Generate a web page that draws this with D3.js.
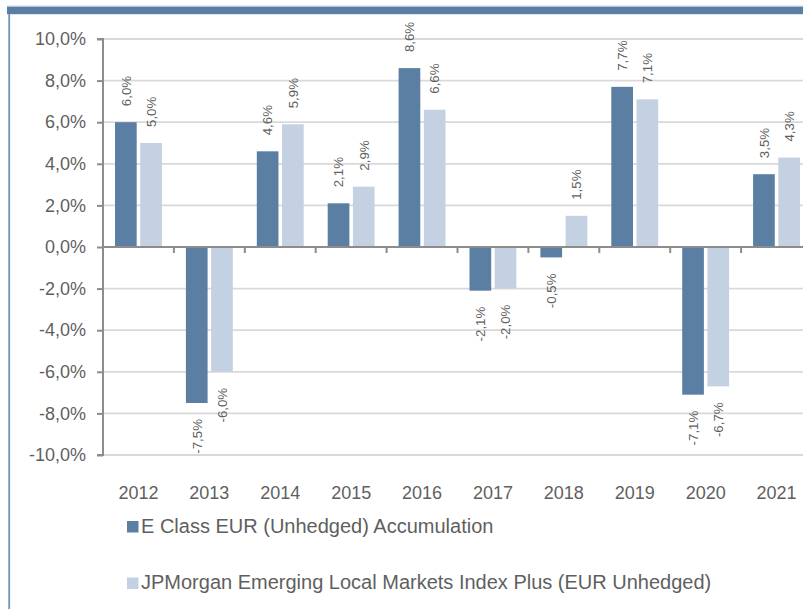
<!DOCTYPE html>
<html><head><meta charset="utf-8">
<script src="https://cdn.jsdelivr.net/npm/d3@7"></script>
<style>
html,body{margin:0;padding:0;background:#fff;}
svg{display:block;font-family:"Liberation Sans",Arial,sans-serif;}
</style></head>
<body>
<svg id="chart" width="803" height="609"></svg>
<script>
const years = ["2012","2013","2014","2015","2016","2017","2018","2019","2020","2021"];
const fundValues = [6.0,-7.5,4.6,2.1,8.6,-2.1,-0.5,7.7,-7.1,3.5];
const indexValues = [5.0,-6.0,5.9,2.9,6.6,-2.0,1.5,7.1,-6.7,4.3];
const seriesNames = ["E Class EUR (Unhedged) Accumulation","JPMorgan Emerging Local Markets Index Plus (EUR Unhedged)"];
const yTicks = [10,8,6,4,2,0,-2,-4,-6,-8,-10];

const colors = ["#5b7fa3","#c4d1e3"];
const textColor = "#5f5f5f";
const svg = d3.select("#chart");
const W = 803, H = 609;

// frame
svg.append("rect").attr("x",7).attr("y",5.5).attr("width",W-7).attr("height",1.2).attr("fill","#c9d5e4");
svg.append("rect").attr("x",7).attr("y",6.7).attr("width",W-7).attr("height",7.5).attr("fill","#5b7fa3");
svg.append("rect").attr("x",8.3).attr("y",14).attr("width",1.8).attr("height",H-14).attr("fill","#7393b5");

const y = d3.scaleLinear().domain([-10,10]).range([455,39]);
const x0 = d3.scaleBand().domain(years).range([103,103+10*70.9]).paddingInner(0).paddingOuter(0);
const groupPad = 12;
const x1 = d3.scaleBand().domain([0,1]).range([0,x0.bandwidth()-2*groupPad]).paddingInner(0.14).paddingOuter(0);

// gridlines
svg.append("g").selectAll("line").data(yTicks.filter(d=>d!==0)).join("line")
  .attr("x1",103).attr("x2",W).attr("y1",d=>y(d)).attr("y2",d=>y(d))
  .attr("stroke","#d9d9d9").attr("stroke-width",1.8);

// bars
const data = years.map((yr,i)=>({yr, vals:[fundValues[i],indexValues[i]]}));
const groups = svg.append("g").selectAll("g").data(data).join("g")
  .attr("transform",d=>`translate(${x0(d.yr)+groupPad},0)`);
groups.selectAll("rect").data(d=>d.vals.map((v,k)=>({v,k}))).join("rect")
  .attr("x",d=>x1(d.k)).attr("width",x1.bandwidth())
  .attr("y",d=>y(Math.max(0,d.v))).attr("height",d=>Math.abs(y(d.v)-y(0)))
  .attr("fill",d=>colors[d.k]);

// value labels
const fmt = v => d3.format(".1f")(v).replace(".",",").replace("−","-") + "%";
groups.selectAll("text").data(d=>d.vals.map((v,k)=>({v,k}))).join("text")
  .attr("transform",d=>{
    const cx = x1(d.k)+x1.bandwidth()/2;
    const yy = d.v>=0 ? y(d.v)-16 : y(d.v)+16;
    return `translate(${cx},${yy}) rotate(-90)`;
  })
  .attr("text-anchor",d=>d.v>=0?"start":"end")
  .attr("dy","0.36em")
  .attr("font-size",13.3).attr("fill",textColor)
  .text(d=>fmt(d.v));

// y axis
const yAxis = d3.axisLeft(y).tickValues(yTicks).tickSize(6).tickPadding(11)
  .tickFormat(d=>d3.format(".1f")(d).replace(".",",").replace("−","-")+"%");
const ya = svg.append("g").attr("transform","translate(103,0)").call(yAxis);
ya.select(".domain").attr("stroke","#8c8c8c").attr("stroke-width",2).attr("d",`M-6,${y(10)}H0V${y(-10)}H-6`);
ya.selectAll(".tick line").attr("stroke","#8c8c8c").attr("stroke-width",2);
ya.selectAll(".tick text").attr("font-size",18).attr("fill",textColor).attr("font-family","Liberation Sans, Arial, sans-serif");

// zero axis with category ticks
svg.append("line").attr("x1",103).attr("x2",W).attr("y1",y(0)).attr("y2",y(0)).attr("stroke","#8c8c8c").attr("stroke-width",2);
svg.append("g").selectAll("line").data(years).join("line")
  .attr("x1",d=>x0(d)).attr("x2",d=>x0(d)).attr("y1",y(0)).attr("y2",y(0)+6)
  .attr("stroke","#8c8c8c").attr("stroke-width",2);
svg.append("line").attr("x1",x0("2021")+x0.bandwidth()).attr("x2",x0("2021")+x0.bandwidth())
  .attr("y1",y(0)).attr("y2",y(0)+6).attr("stroke","#8c8c8c").attr("stroke-width",2);

// year labels
svg.append("g").selectAll("text").data(years).join("text")
  .attr("x",d=>x0(d)+x0.bandwidth()/2).attr("y",499)
  .attr("text-anchor","middle").attr("font-size",18).attr("fill",textColor)
  .text(d=>d);

// legend
const legY = [532.5, 589];
const leg = svg.append("g").selectAll("g").data(seriesNames).join("g");
leg.append("rect").attr("x",127).attr("y",(d,i)=>legY[i]-11.5).attr("width",11.5).attr("height",11.5).attr("fill",(d,i)=>colors[i]);
leg.append("text").attr("x",141).attr("y",(d,i)=>legY[i]).attr("font-size",20).attr("fill",textColor).text(d=>d);
</script>
</body></html>
